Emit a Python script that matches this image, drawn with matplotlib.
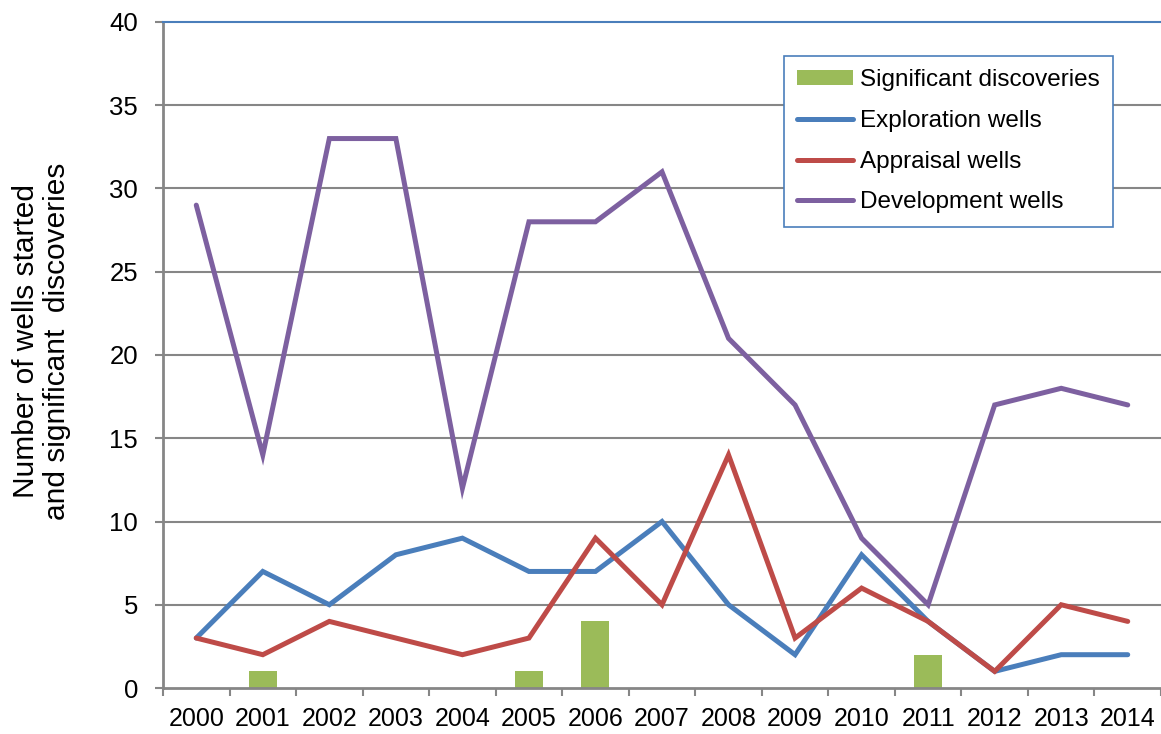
import matplotlib
matplotlib.use("Agg")
import matplotlib.pyplot as plt
import numpy as np
from matplotlib.lines import Line2D
from matplotlib.patches import Patch

plt.rcParams['font.family'] = ['Liberation Sans', 'DejaVu Sans']

years = ['2000', '2001', '2002', '2003', '2004', '2005', '2006', '2007',
         '2008', '2009', '2010', '2011', '2012', '2013', '2014']
discoveries = [0, 1, 0, 0, 0, 1, 4, 0, 0, 0, 0, 2, 0, 0, 0]
exploration = [3, 7, 5, 8, 9, 7, 7, 10, 5, 2, 8, 4, 1, 2, 2]
appraisal = [3, 2, 4, 3, 2, 3, 9, 5, 14, 3, 6, 4, 1, 5, 4]
development = [29, 14, 33, 33, 12, 28, 28, 31, 21, 17, 9, 5, 17, 18, 17]

c_green = '#9BBB59'
c_blue = '#4A7EBB'
c_red = '#BE4B48'
c_purple = '#7D60A0'
c_grid = '#868686'

fig = plt.figure(figsize=(11.61, 7.34), dpi=100)
ax = fig.add_axes([163/1161, 1-688/734, 1-163/1161, (688-22)/734])

x = np.arange(len(years))
lw = 3.6
ax.bar(x, discoveries, width=0.42, color=c_green, zorder=2)
ax.plot(x, exploration, color=c_blue, lw=lw, zorder=3, solid_capstyle='round', solid_joinstyle='miter')
ax.plot(x, appraisal, color=c_red, lw=lw, zorder=3, solid_capstyle='round', solid_joinstyle='miter')
ax.plot(x, development, color=c_purple, lw=lw, zorder=3, solid_capstyle='round', solid_joinstyle='miter')

ax.set_xlim(-0.5, len(years) - 0.5)
ax.set_ylim(0, 40)
ax.set_yticks(np.arange(0, 41, 5))
ax.set_xticks(x)
ax.set_xticklabels(years)
ax.set_xticks(np.arange(-0.5, len(years), 1.0), minor=True)
ax.tick_params(axis='x', which='major', length=0, labelsize=18, pad=14)
ax.tick_params(axis='x', which='minor', length=6, width=1.5, color=c_grid, direction='out')
ax.tick_params(axis='y', length=6, width=1.5, color=c_grid, labelsize=18.5, pad=12)

for yv in range(5, 40, 5):
    ax.axhline(yv, color=c_grid, lw=1.5, zorder=1)

for s in ['left', 'bottom']:
    ax.spines[s].set_color(c_grid)
    ax.spines[s].set_linewidth(2)
ax.spines['right'].set_visible(False)
ax.spines['top'].set_color(c_blue)
ax.spines['top'].set_linewidth(1.5)

ax.set_ylabel('Number of wells started\nand significant  discoveries', fontsize=21.5,
              linespacing=1.15)
ax.yaxis.set_label_coords(-0.092, 0.521)

handles = [Patch(facecolor=c_green, edgecolor='none'),
           Line2D([], [], color=c_blue, lw=lw, solid_capstyle='round'),
           Line2D([], [], color=c_red, lw=lw, solid_capstyle='round'),
           Line2D([], [], color=c_purple, lw=lw, solid_capstyle='round')]
labels = ['Significant discoveries', 'Exploration wells', 'Appraisal wells', 'Development wells']
leg = ax.legend(handles, labels, loc='upper left', bbox_to_anchor=(0.622, 0.949),
                fontsize=17.5, frameon=True, fancybox=False, borderpad=0.55,
                labelspacing=0.77, handlelength=2.3, handleheight=0.6, handletextpad=0.3,
                borderaxespad=0)
leg.get_frame().set_edgecolor(c_blue)
leg.get_frame().set_linewidth(1.2)
leg.get_frame().set_alpha(1)

fig.savefig('out.png', dpi=100)
